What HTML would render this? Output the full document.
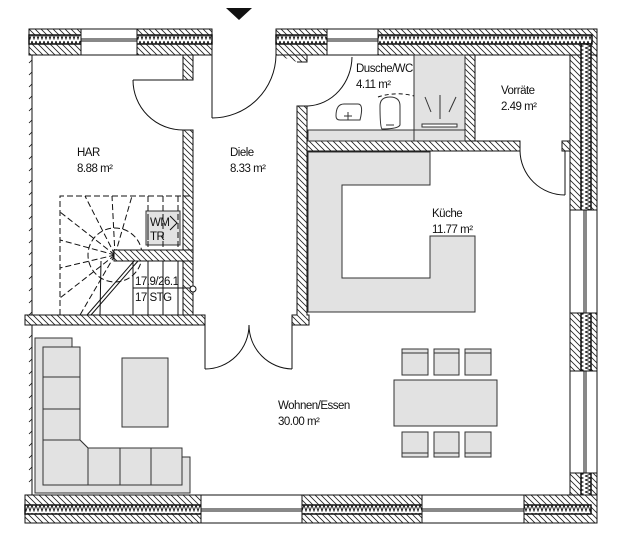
<!DOCTYPE html>
<html><head><meta charset="utf-8"><style>
html,body{margin:0;padding:0;background:#fff;}
svg{display:block;}
text{font-family:"Liberation Sans",sans-serif;font-size:11.5px;fill:#111;letter-spacing:-0.5px;}
</style></head><body>
<svg width="621" height="546" viewBox="0 0 621 546" xmlns="http://www.w3.org/2000/svg">
<defs>
<pattern id="h" width="6" height="6" patternUnits="userSpaceOnUse">
<rect width="6" height="6" fill="#fff"/>
<path d="M-1,-1 L7,7 M-1,5 L1,7 M5,-1 L7,1" stroke="#222" stroke-width="0.8"/>
</pattern>
<pattern id="zh" width="4" height="8" patternUnits="userSpaceOnUse">
<rect width="4" height="8" fill="#fff"/>
<path d="M0,1 L2,7 L4,1" stroke="#111" stroke-width="0.9" fill="none"/>
</pattern>
<pattern id="zv" width="8" height="4" patternUnits="userSpaceOnUse">
<rect width="8" height="4" fill="#fff"/>
<path d="M1,0 L7,2 L1,4" stroke="#111" stroke-width="0.9" fill="none"/>
</pattern>
</defs>
<g stroke="#111" stroke-width="1">
<rect x="29" y="29" width="183" height="26" fill="url(#h)"/>
<rect x="29" y="35" width="183" height="9" fill="url(#zh)" stroke-width="1.5"/>
<rect x="276" y="29" width="321" height="26" fill="url(#h)"/>
<rect x="276" y="35" width="316" height="9" fill="url(#zh)" stroke-width="1.5"/>
<rect x="570" y="55" width="27" height="440" fill="url(#h)"/>
<rect x="581" y="44" width="10" height="470" fill="url(#zv)" stroke-width="1.5"/>
<rect x="25" y="495" width="572" height="28" fill="url(#h)"/>
<rect x="25" y="505" width="566" height="9" fill="url(#zh)" stroke-width="1.5"/>
<rect x="81" y="29" width="56" height="26" fill="#fff"/>
<line x1="81" y1="39" x2="137" y2="39"/><line x1="81" y1="41" x2="137" y2="41"/>
<rect x="327" y="29" width="51" height="26" fill="#fff"/>
<line x1="327" y1="39" x2="378" y2="39"/><line x1="327" y1="41" x2="378" y2="41"/>
<rect x="201" y="495" width="101" height="28" fill="#fff"/>
<line x1="201" y1="509" x2="302" y2="509"/><line x1="201" y1="511" x2="302" y2="511"/>
<rect x="422" y="495" width="102" height="28" fill="#fff"/>
<line x1="422" y1="509" x2="524" y2="509"/><line x1="422" y1="511" x2="524" y2="511"/>
<rect x="570" y="210" width="27" height="103" fill="#fff"/>
<line x1="584" y1="210" x2="584" y2="313"/><line x1="586" y1="210" x2="586" y2="313"/>
<rect x="570" y="371" width="27" height="102" fill="#fff"/>
<line x1="584" y1="371" x2="584" y2="473"/><line x1="586" y1="371" x2="586" y2="473"/>
<line x1="32" y1="55" x2="32" y2="495"/>
</g>
<g stroke="#111" stroke-width="0.8">
<path d="M32,60 l-3,3 M32,72 l-3,3 M32,84 l-3,3 M32,96 l-3,3 M32,108 l-3,3 M32,120 l-3,3 M32,132 l-3,3 M32,144 l-3,3 M32,156 l-3,3 M32,168 l-3,3 M32,180 l-3,3 M32,192 l-3,3 M32,204 l-3,3 M32,216 l-3,3 M32,228 l-3,3 M32,240 l-3,3 M32,252 l-3,3 M32,264 l-3,3 M32,276 l-3,3 M32,288 l-3,3 M32,300 l-3,3 M32,312 l-3,3 M32,335 l-3,3 M32,347 l-3,3 M32,359 l-3,3 M32,371 l-3,3 M32,383 l-3,3 M32,395 l-3,3 M32,407 l-3,3 M32,419 l-3,3 M32,431 l-3,3 M32,443 l-3,3 M32,455 l-3,3 M32,467 l-3,3 M32,479 l-3,3"/>
</g>
<g stroke="#111" stroke-width="1" fill="url(#h)">
<rect x="183" y="55" width="10" height="25"/>
<rect x="183" y="130" width="10" height="185"/>
<path d="M276,55 L307,55 L307,62 L297,62"/>
<path d="M297,106 L307,106 L307,315 L309,315 L309,325 L292,325 L292,315 L297,315 Z"/>
<rect x="25" y="315" width="180" height="10"/>
<rect x="465" y="55" width="10" height="87"/>
<path d="M307,141 L520,141 L520,151 L307,151 Z"/>
<path d="M562,141 L570,141 L570,151 L562,151 Z"/>
</g>
<g stroke="#333" stroke-width="1" fill="#e2e2e2">
<rect x="308" y="130" width="106" height="11"/>
<rect x="414" y="55" width="51" height="86"/>
<line x1="414" y1="130" x2="465" y2="130"/>
<path d="M308,152 L430,152 L430,185 L342,185 L342,278 L430,278 L430,236 L475,236 L475,312 L308,312 Z"/>
<path d="M35,338 L72,338 L72,347 L80,347 L80,440 L88,448 L182,448 L182,457 L190,457 L190,493 L35,493 Z"/>
<rect x="43" y="347" width="37" height="30"/><rect x="43" y="377" width="37" height="32"/><rect x="43" y="409" width="37" height="31"/>
<path d="M43,440 L80,440 L88,448 L88,485 L43,485 Z"/>
<rect x="88" y="448" width="32" height="37"/><rect x="120" y="448" width="31" height="37"/><rect x="151" y="448" width="31" height="37"/>
<rect x="122" y="358" width="46" height="69"/>
<rect x="394" y="380" width="103" height="46"/>
<rect x="402" y="349" width="26" height="26"/><rect x="434" y="349" width="25" height="26"/><rect x="465" y="349" width="26" height="26"/>
<rect x="402" y="432" width="26" height="25"/><rect x="434" y="432" width="25" height="25"/><rect x="465" y="432" width="26" height="25"/>
<rect x="146" y="211" width="34" height="34"/>
</g>
<g stroke="#333" stroke-width="1">
<line x1="402" y1="353" x2="428" y2="353"/><line x1="434" y1="353" x2="459" y2="353"/><line x1="465" y1="353" x2="491" y2="353"/>
<line x1="402" y1="453" x2="428" y2="453"/><line x1="434" y1="453" x2="459" y2="453"/><line x1="465" y1="453" x2="491" y2="453"/>
</g>
<g stroke="#333" stroke-width="1" fill="#fff">
<path d="M336,116 Q336,104 344,104 L358,104 Q364,104 360,120 L340,120 Q336,120 336,116 Z"/>
<line x1="348" y1="112" x2="348" y2="120"/><line x1="344" y1="116" x2="352" y2="116"/>
<path d="M380,106 Q380,97 390,97 Q400,97 400,106 L400,125 Q398,129 382,129 Q380,127 380,106 Z"/>
<line x1="386" y1="125" x2="394" y2="125"/>
<rect x="422" y="124" width="35" height="3"/>
<line x1="425" y1="97" x2="431" y2="112"/><line x1="440" y1="95" x2="440" y2="119"/><line x1="456" y1="97" x2="449" y2="112"/>
</g>
<g stroke="#111" stroke-width="1" fill="none">
<line x1="212" y1="29" x2="212" y2="118"/>
<path d="M212,118 A64,64 0 0 0 276,55"/>
<line x1="133" y1="80" x2="193" y2="80"/>
<path d="M133,80 A50,50 0 0 0 183,130"/>
<line x1="297" y1="106" x2="308" y2="106"/>
<path d="M308,106 A46,50 0 0 0 352,57"/>
<path d="M378,97 A50,40 0 0 1 414,96" stroke-dasharray="4,3"/>
<line x1="565" y1="151" x2="565" y2="195"/>
<path d="M520,151 A45,45 0 0 0 565,195"/>
<line x1="205" y1="325" x2="205" y2="369"/>
<path d="M205,369 A44,44 0 0 0 249,325"/>
<line x1="292" y1="325" x2="292" y2="369"/>
<path d="M292,369 A44,44 0 0 1 249,325"/>
</g>
<g stroke="#111" stroke-width="1" fill="none">
<path d="M60,315 L60,196 L193,196" stroke-dasharray="6,3"/>
<g stroke-dasharray="6,3">
<line x1="115" y1="255" x2="60" y2="212"/><line x1="115" y1="255" x2="60" y2="240"/>
<line x1="115" y1="255" x2="60" y2="268"/><line x1="115" y1="255" x2="60" y2="298"/>
<line x1="115" y1="255" x2="85" y2="196"/><line x1="115" y1="255" x2="112" y2="196"/>
<line x1="115" y1="255" x2="132" y2="196"/><line x1="115" y1="255" x2="80" y2="315"/>
<line x1="148" y1="196" x2="148" y2="250"/><line x1="163" y1="196" x2="163" y2="250"/><line x1="178" y1="196" x2="178" y2="250"/>
<circle cx="115" cy="255" r="27"/>
</g>
<rect x="114" y="250" width="79" height="11" fill="url(#h)"/>
<line x1="133" y1="261" x2="133" y2="315"/><line x1="148" y1="261" x2="148" y2="315"/>
<line x1="163" y1="261" x2="163" y2="315"/><line x1="178" y1="261" x2="178" y2="315"/>
<line x1="101" y1="261" x2="100" y2="315"/>
<line x1="133" y1="288" x2="193" y2="288"/>
<line x1="134" y1="261" x2="87" y2="315"/><line x1="138" y1="261" x2="91" y2="315"/>
<circle cx="193" cy="289" r="3" fill="#fff"/>
<line x1="148" y1="216" x2="148" y2="240"/>
<path d="M170,216 L177,223 L170,230"/>
</g>
<polygon points="226,8 252,8 239,20" fill="#111"/>
<text x="77" y="156">HAR</text><text x="77" y="172">8.88 m²</text>
<text x="230" y="156">Diele</text><text x="230" y="172">8.33 m²</text>
<text x="356" y="72">Dusche/WC</text><text x="356" y="88">4.11 m²</text>
<text x="501" y="94">Vorräte</text><text x="501" y="110">2.49 m²</text>
<text x="432" y="217">Küche</text><text x="432" y="233">11.77 m²</text>
<text x="278" y="409">Wohnen/Essen</text><text x="278" y="425">30.00 m²</text>
<text x="150" y="226" font-size="10">WM</text><text x="150" y="240" font-size="10">TR</text>
<text x="135" y="285">17.9/26.1</text><text x="135" y="301">17 STG</text>
</svg>
</body></html>
